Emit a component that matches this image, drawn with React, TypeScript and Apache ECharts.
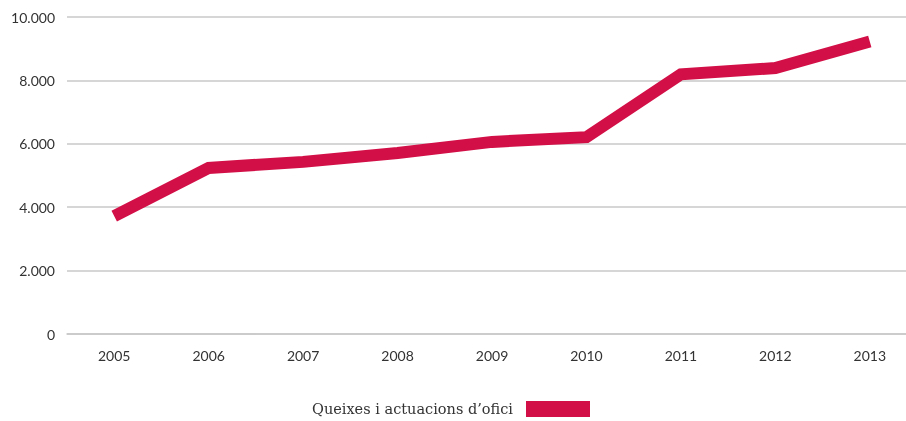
import React, { useEffect, useRef } from "react";
import * as echarts from "echarts";

const years = ["2005", "2006", "2007", "2008", "2009", "2010", "2011", "2012", "2013"];
const queixes = [3720, 5240, 5430, 5710, 6060, 6210, 8190, 8390, 9230];
const seriesName = "Queixes i actuacions d\u2019ofici";

const fmt = (v: number) => String(v).replace(/\B(?=(\d{3})+(?!\d))/g, ".");

export default function App() {
  const ref = useRef<HTMLDivElement>(null);
  useEffect(() => {
    const chart = echarts.init(ref.current!, undefined, { renderer: "svg" });
    chart.setOption({
      animation: false,
      grid: { left: 67, top: 17, width: 850, height: 317 },
      xAxis: {
        type: "category",
        data: years,
        boundaryGap: true,
        axisLine: { lineStyle: { color: "#c8c8c8", width: 1.5 } },
        axisTick: { alignWithLabel: true, inside: true, length: 8, lineStyle: { color: "#c8c8c8", width: 1 } },
        axisLabel: { color: "#333", fontFamily: "Lato", fontSize: 14, margin: 14 },
      },
      yAxis: {
        type: "value",
        min: 0,
        max: 10000,
        interval: 2000,
        axisLine: { show: false },
        axisTick: { show: false },
        splitLine: { lineStyle: { color: "#c8c8c8", width: 1.5 } },
        axisLabel: { color: "#333", fontFamily: "Lato", fontSize: 14, margin: 12, formatter: (v: number) => fmt(v) },
      },
      legend: {
        top: 401,
        left: 312,
        align: "right",
        itemWidth: 64,
        itemHeight: 16,
        itemGap: 10,
        icon: "rect",
        padding: 0,
        textStyle: { color: "#333", fontFamily: "DejaVu Serif", fontSize: 14.5, padding: [0, 8, 0, 0] },
        data: [seriesName],
      },
      series: [
        {
          name: seriesName,
          type: "line",
          data: queixes,
          symbol: "none",
          color: "#d20f46",
          lineStyle: { width: 12, color: "#d20f46", cap: "butt", join: "miter" },
        },
      ],
    });
    return () => chart.dispose();
  }, []);
  return (
    <div style={{ position: "fixed", left: 0, top: 0, width: 906, height: 421, overflow: "hidden" }}>
      <div ref={ref} style={{ width: 930, height: 421 }} />
    </div>
  );
}
